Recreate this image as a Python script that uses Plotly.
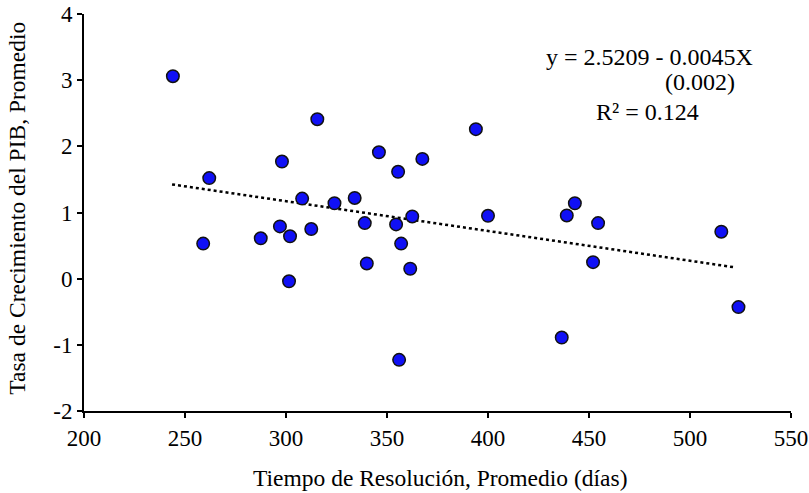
import plotly.graph_objects as go

# promedio de tiempo de resolución (días) y crecimiento del PIB (%)
tiempo = [244, 262, 259, 287.5, 297, 298, 302, 301.5, 308, 312.5, 315.5,
          324, 334, 339, 340, 346, 354.5, 355.5, 357, 356, 361.5, 362.5,
          367.5, 394, 400, 436.5, 439, 443, 452, 454.5, 515.5, 524]
crecimiento = [3.06, 1.52, 0.53, 0.61, 0.79, 1.77, 0.64, -0.04, 1.21, 0.75, 2.41,
               1.14, 1.22, 0.84, 0.23, 1.91, 0.82, 1.615, 0.53, -1.227, 0.15, 0.94,
               1.81, 2.26, 0.95, -0.89, 0.955, 1.14, 0.25, 0.84, 0.71, -0.43]

x_ticks = [200, 250, 300, 350, 400, 450, 500, 550]
y_ticks = [-2, -1, 0, 1, 2, 3, 4]

# recta de regresión
intercepto = 2.5209
pendiente = -0.0045
trend_x = [243.6, 521.5]
trend_y = [intercepto + pendiente * v for v in trend_x]

FONT = 'Liberation Serif'

fig = go.Figure()
fig.add_trace(go.Scatter(
    x=trend_x, y=trend_y, mode='lines',
    line=dict(color='black', width=2.5, dash='dot'),
    showlegend=False, hoverinfo='skip'
))
fig.add_trace(go.Scatter(
    x=tiempo, y=crecimiento, mode='markers',
    marker=dict(size=12.5, color='#1010F5', line=dict(color='#111111', width=1.5)),
    showlegend=False
))

ann = dict(xref='paper', yref='paper', showarrow=False,
           xanchor='center', yanchor='middle')
eq_font = dict(family=FONT, size=24, color='black')
fig.add_annotation(text='y = 2.5209 - 0.0045X', x=0.8, y=0.892, font=eq_font, **ann)
fig.add_annotation(text='(0.002)', x=0.871, y=0.828, font=eq_font, **ann)
fig.add_annotation(text='R² = 0.124', x=0.797, y=0.754, font=eq_font, **ann)
# títulos de ejes
title_font = dict(family=FONT, size=23.5, color='black')
fig.add_annotation(text='Tiempo de Resolución, Promedio (días)',
                   x=0.504, y=-0.17, font=title_font, **ann)
fig.add_annotation(text='Tasa de Crecimiento del PIB, Promedio',
                   x=-0.094, y=0.511, textangle=-90, font=title_font, **ann)

tick_font = dict(family=FONT, size=23, color='black')
fig.update_layout(
    width=809, height=493,
    paper_bgcolor='white', plot_bgcolor='white',
    margin=dict(l=84, r=18, t=14, b=82),
    font=dict(family=FONT, size=22, color='black'),
    xaxis=dict(
        range=[200, 550], tickvals=x_ticks, ticktext=[str(v) for v in x_ticks],
        tickfont=tick_font, ticklabeloverflow='allow',
        showgrid=False, zeroline=False, automargin=False,
        showline=True, linecolor='black', linewidth=2,
        ticks='outside', ticklen=5, tickwidth=2, tickcolor='black',
    ),
    yaxis=dict(
        range=[-2, 4], tickvals=y_ticks, ticktext=[str(v) for v in y_ticks],
        tickfont=tick_font, ticklabeloverflow='allow',
        showgrid=False, zeroline=False, automargin=False,
        showline=True, linecolor='black', linewidth=2,
        ticks='outside', ticklen=5, tickwidth=2, tickcolor='black',
    ),
)

# sin el margen de 8 px del <body>, la figura ocupa la ventana entera
fig.write_html("out.html", config={'displayModeBar': False},
               post_script="document.body.style.margin = '0';")
